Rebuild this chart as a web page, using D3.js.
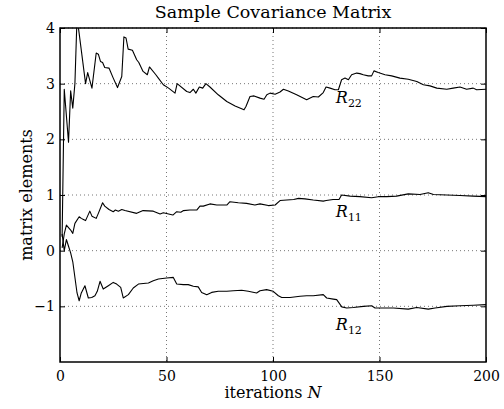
<!DOCTYPE html>
<html>
<head>
<meta charset="utf-8">
<script src="https://cdn.jsdelivr.net/npm/d3@7"></script>
<style>
  body { margin: 0; background: #fff; }
  text { font-family: "DejaVu Serif", serif; fill: #000; }
</style>
</head>
<body>
<div id="chart"></div>
<script>
// values: [iteration N, value]
const r22 = [[1,0.25],[2,2.9],[4,1.95],[5,2.87],[6,2.56],[7,3.0],[8,4.2],[12,3.0],[13,3.2],[15,2.92],[17,3.55],[18,3.53],[19,3.4],[20,3.38],[21,3.29],[23,3.28],[25,3.1],[27,2.93],[29,3.13],[30,3.84],[31,3.82],[32,3.62],[34,3.6],[36,3.43],[37,3.38],[39,3.22],[41,3.16],[42,3.3],[45,3.16],[46,3.11],[48.5,2.98],[51,2.92],[54,2.83],[55,3.0],[59.5,2.86],[61,2.84],[62.6,2.9],[63.8,2.83],[65.4,2.94],[67,2.92],[68.5,3.0],[70.4,2.94],[74.3,2.8],[78.3,2.68],[82.2,2.6],[86.4,2.53],[87.3,2.59],[89.2,2.77],[91.1,2.78],[93.9,2.74],[95.8,2.72],[97.1,2.8],[98.6,2.83],[101,2.81],[103.3,2.85],[104.9,2.9],[107.2,2.87],[111.1,2.8],[115.8,2.71],[118.9,2.77],[121.3,2.76],[123.6,2.84],[124.9,2.94],[126.8,2.92],[129.1,2.89],[130.7,2.89],[132.2,3.07],[133.8,3.1],[135.4,3.07],[136.9,3.16],[139.3,3.19],[140.8,3.18],[142.4,3.16],[144.7,3.14],[146.3,3.14],[147.4,3.23],[149.4,3.2],[152.6,3.16],[155.7,3.14],[159.6,3.1],[163.5,3.08],[167.5,3.04],[170.6,2.98],[173.7,2.96],[176.9,2.92],[181.6,2.9],[184.6,2.92],[187.8,2.94],[190.9,2.9],[194,2.92],[195.6,2.89],[200,2.9]];

const r11 = [[1,0.05],[2,0.3],[3,0.46],[5,0.37],[6,0.31],[7,0.49],[9,0.61],[10,0.58],[11,0.56],[12,0.54],[14,0.71],[15,0.62],[17,0.58],[18,0.67],[20,0.86],[21,0.8],[23,0.74],[25,0.7],[26,0.73],[27.4,0.71],[29,0.74],[30.5,0.72],[36,0.67],[39,0.72],[43.8,0.71],[47,0.66],[48.5,0.68],[51,0.66],[53,0.64],[54.8,0.7],[56.7,0.69],[58,0.72],[61,0.73],[64.2,0.73],[65.7,0.8],[67.3,0.8],[70.4,0.84],[73.6,0.82],[76,0.82],[78.3,0.82],[79.8,0.88],[83.7,0.86],[87.6,0.85],[91.5,0.82],[93.9,0.84],[97.8,0.81],[101,0.82],[103.3,0.9],[106.5,0.91],[109.7,0.92],[112,0.94],[115,0.93],[118.9,0.91],[123.6,0.89],[125,0.9],[128.2,0.92],[131,0.92],[132.2,1.0],[136.2,0.98],[140.8,0.97],[146.3,0.95],[149.4,0.97],[153.4,0.97],[158,0.98],[163.5,1.02],[169,1.01],[172.9,1.04],[175.3,1.01],[181.6,1.0],[187.8,0.99],[194,0.98],[200,0.97]];

const r12 = [[1,0.3],[2,0.0],[3,0.2],[4,0.08],[5,-0.04],[6,-0.2],[8,-0.76],[9,-0.9],[10,-0.76],[11.7,-0.63],[13.3,-0.85],[14.9,-0.84],[16.4,-0.81],[17.5,-0.73],[18.8,-0.55],[20.3,-0.69],[22.7,-0.63],[25,-0.57],[26.6,-0.6],[28.5,-0.66],[29.7,-0.85],[32.1,-0.79],[34.4,-0.67],[36.8,-0.6],[39.1,-0.59],[41.5,-0.58],[43.8,-0.54],[46.2,-0.51],[50.1,-0.49],[53.2,-0.48],[54.8,-0.6],[57.9,-0.61],[60.2,-0.61],[62.6,-0.64],[64.9,-0.65],[66.5,-0.75],[68.9,-0.79],[71.2,-0.75],[74.3,-0.73],[78.3,-0.73],[81.4,-0.72],[85.3,-0.71],[88.4,-0.73],[92.3,-0.76],[93.9,-0.72],[97,-0.7],[100.1,-0.73],[102.5,-0.81],[104.1,-0.84],[108,-0.84],[112.7,-0.82],[115.8,-0.81],[118.9,-0.81],[123.6,-0.79],[125.2,-0.85],[128.3,-0.87],[129.9,-0.88],[132.3,-1.01],[134.6,-1.03],[137.7,-1.02],[142.4,-1.0],[146.3,-0.99],[147.9,-1.03],[151,-1.03],[156.5,-1.03],[163.5,-1.05],[167.5,-1.02],[172.9,-1.05],[176.1,-1.03],[181.6,-1.0],[187.8,-0.99],[194,-0.98],[200,-0.97]];

const xTicks = [0, 50, 100, 150, 200];
const yTicks = [-1, 0, 1, 2, 3, 4];

// curve labels: [main, subscript, N, value]
const labels = [["R", "22", 129.5, 2.65], ["R", "11", 129.5, 0.6], ["R", "12", 129.5, -1.42]];

const svg_width = 504, svg_height = 409;
const margin = { top: 28, right: 18, bottom: 47, left: 60 };
const width = svg_width - margin.left - margin.right,
  height = svg_height - margin.top - margin.bottom;

const x = d3.scaleLinear().domain([0, 200]).range([0, width]);
const y = d3.scaleLinear().domain([-2, 4]).range([height, 0]);

const svg = d3.select("#chart").append("svg")
  .attr("width", svg_width)
  .attr("height", svg_height)
  .append("g")
  .attr("transform", "translate(" + margin.left + "," + margin.top + ")");

svg.append("clipPath").attr("id", "clip")
  .append("rect").attr("width", width).attr("height", height);

// dotted grid
svg.append("g").selectAll("line.gx")
  .data(xTicks.slice(1, -1)).enter().append("line")
  .attr("x1", d => x(d)).attr("x2", d => x(d))
  .attr("y1", 0).attr("y2", height)
  .attr("stroke", "#777").attr("stroke-width", 1).attr("stroke-dasharray", "1,3");
svg.append("g").selectAll("line.gy")
  .data(yTicks).enter().append("line")
  .attr("y1", d => y(d)).attr("y2", d => y(d))
  .attr("x1", 0).attr("x2", width)
  .attr("stroke", "#777").attr("stroke-width", 1).attr("stroke-dasharray", "1,3");

// axes, ticks pointing inward, mirrored on top/right
function styleAxis(g) {
  g.select(".domain").remove();
  g.selectAll("line").attr("stroke", "#000").attr("stroke-width", 1);
  g.selectAll("text").style("font-size", "14px").style("font-family", "DejaVu Serif, serif");
}
svg.append("g").attr("transform", "translate(0," + height + ")")
  .call(d3.axisBottom(x).tickValues(xTicks).tickSizeInner(-5).tickPadding(9).tickFormat(d3.format("d")))
  .call(styleAxis);
svg.append("g")
  .call(d3.axisTop(x).tickValues(xTicks).tickSizeInner(-5).tickFormat(""))
  .call(styleAxis);
svg.append("g")
  .call(d3.axisLeft(y).tickValues(yTicks).tickSizeInner(-5).tickPadding(5).tickFormat(d3.format("d")))
  .call(styleAxis);
svg.append("g").attr("transform", "translate(" + width + ",0)")
  .call(d3.axisRight(y).tickValues(yTicks).tickSizeInner(-5).tickFormat(""))
  .call(styleAxis);

// series
const line = d3.line().x(d => x(d[0])).y(d => y(d[1]));
[r22, r11, r12].forEach(function (s) {
  svg.append("path")
    .datum(s)
    .attr("clip-path", "url(#clip)")
    .attr("fill", "none")
    .attr("stroke", "#000")
    .attr("stroke-width", 1.1)
    .attr("stroke-linejoin", "round")
    .attr("d", line);
});

// frame
svg.append("rect").attr("width", width).attr("height", height)
  .attr("fill", "none").attr("stroke", "#000").attr("stroke-width", 1.5);

// curve labels
labels.forEach(function (l) {
  const t = svg.append("text")
    .attr("x", x(l[2])).attr("y", y(l[3]))
    .style("font-size", "16px").style("font-style", "italic");
  t.append("tspan").text(l[0]);
  t.append("tspan").attr("dy", 4).style("font-size", "11px").style("font-style", "normal").text(l[1]);
});

// title and axis labels
svg.append("text")
  .attr("x", width / 2).attr("y", -10)
  .attr("text-anchor", "middle")
  .style("font-size", "17.5px")
  .text("Sample Covariance Matrix");

const xl = svg.append("text")
  .attr("x", width / 2).attr("y", height + 36)
  .attr("text-anchor", "middle")
  .style("font-size", "16px");
xl.append("tspan").text("iterations ");
xl.append("tspan").style("font-style", "italic").text("N");

svg.append("text")
  .attr("transform", "translate(-28," + (height / 2) + ") rotate(-90)")
  .attr("text-anchor", "middle")
  .style("font-size", "16px")
  .text("matrix elements");
</script>
</body>
</html>
